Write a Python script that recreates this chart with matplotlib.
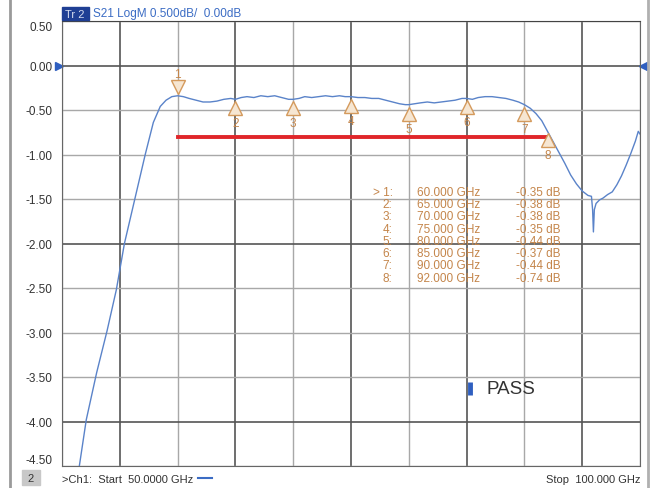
import matplotlib
matplotlib.use("Agg")
import matplotlib.pyplot as plt
from matplotlib.patches import Rectangle

plt.rcParams['font.family'] = ['Liberation Sans', 'DejaVu Sans']

# S21 trace (GHz, dB)
freq_ghz = [51.5, 52.1, 53.0, 53.9, 54.7, 55.4, 56.3, 57.2, 57.9, 58.5, 59.0, 59.5,
            60.0, 60.5, 61.0, 61.6, 62.2, 62.8, 63.4, 64.0, 64.6, 65.0, 65.5, 66.0,
            66.6, 67.2, 67.8, 68.4, 69.0, 69.6, 70.0, 70.5, 71.0, 71.6, 72.2, 72.8,
            73.4, 74.0, 74.5, 75.0, 75.6, 76.2, 76.8, 77.4, 78.0, 78.6, 79.2, 79.7,
            80.0, 80.5, 81.0, 81.6, 82.2, 82.8, 83.4, 84.0, 84.6, 85.0, 85.5, 86.0,
            86.6, 87.2, 87.8, 88.4, 89.0, 89.5, 90.0, 90.5, 91.0, 91.5, 92.0, 92.5,
            93.0, 93.5, 94.0, 94.5, 95.0, 95.5, 95.8, 95.9, 95.97, 96.05, 96.2, 96.5,
            96.8, 97.2, 97.6, 98.0, 98.4, 98.8, 99.2, 99.6, 99.85, 100.0]
s21_db = [-4.50, -3.98, -3.45, -2.98, -2.52, -2.00, -1.50, -1.00, -0.64, -0.46, -0.39, -0.35,
          -0.34, -0.35, -0.37, -0.39, -0.41, -0.41, -0.40, -0.38, -0.37, -0.38, -0.36, -0.35,
          -0.36, -0.34, -0.35, -0.34, -0.36, -0.38, -0.38, -0.37, -0.35, -0.36, -0.35, -0.34,
          -0.35, -0.34, -0.35, -0.35, -0.36, -0.36, -0.37, -0.37, -0.39, -0.41, -0.43, -0.44,
          -0.44, -0.43, -0.42, -0.41, -0.42, -0.41, -0.40, -0.39, -0.37, -0.37, -0.38, -0.36,
          -0.35, -0.35, -0.36, -0.37, -0.39, -0.41, -0.44, -0.48, -0.54, -0.62, -0.74, -0.86,
          -0.98, -1.10, -1.23, -1.33, -1.41, -1.46, -1.47, -1.62, -1.87, -1.62, -1.55, -1.51,
          -1.49, -1.45, -1.42, -1.34, -1.24, -1.12, -0.99, -0.85, -0.74, -0.77]

# markers
marker_ids = ['1', '2', '3', '4', '5', '6', '7', '8']
marker_freq = [60.0, 65.0, 70.0, 75.0, 80.0, 85.0, 90.0, 92.0]
marker_db = [-0.35, -0.38, -0.38, -0.35, -0.44, -0.37, -0.44, -0.74]

# limit line
limit_freq = [60.0, 92.0]
limit_db = [-0.8, -0.8]

x_ticks = [50, 55, 60, 65, 70, 75, 80, 85, 90, 95, 100]
y_ticks = [0.5, 0.0, -0.5, -1.0, -1.5, -2.0, -2.5, -3.0, -3.5, -4.0, -4.5]
y_labels = ['0.50', '0.00', '-0.50', '-1.00', '-1.50', '-2.00', '-2.50', '-3.00',
            '-3.50', '-4.00', '-4.50']

trace_col = '#5a83c9'
mk_col = '#d49a5c'
txt_col = '#c4854a'

fig = plt.figure(figsize=(6.51, 4.89), dpi=100)
ax = fig.add_axes([62/651, 22/489, 578/651, 445/489])
ax.set_xlim(50, 100)
ax.set_ylim(-4.5, 0.5)

ax.set_xticks(x_ticks)
ax.set_xticklabels([])
ax.set_yticks(y_ticks)
ax.set_yticklabels(y_labels, fontsize=8.5, color='#333333')
ax.tick_params(length=0, pad=7)
ax.get_yticklabels()[0].set_va('top')
ax.get_yticklabels()[-1].set_va('bottom')

ax.grid(True, zorder=0)
for i, gl in enumerate(ax.get_xgridlines()):
    dark = i % 2 == 1
    gl.set_color('#555555' if dark else '#a8a8a8')
    gl.set_linewidth(1.2 if dark else 1.0)
for i, gl in enumerate(ax.get_ygridlines()):
    dark = i in (1, 5, 9)
    gl.set_color('#555555' if dark else '#a8a8a8')
    gl.set_linewidth(1.2 if dark else 1.0)
for s in ax.spines.values():
    s.set_color('#666666')
ax.spines['top'].set_color('#444444')

ax.plot(limit_freq, limit_db, color='#e0262a', lw=2.8, zorder=3)
ax.plot(freq_ghz, s21_db, color=trace_col, lw=1.0, zorder=4)

# marker triangles and numbers
for mid, f, v in zip(marker_ids, marker_freq, marker_db):
    if mid == '1':
        ax.plot(f, v + 0.11, marker='v', ms=9.5, mfc='#f6e6d2', mec=mk_col, mew=1, zorder=5)
        ax.text(f, v + 0.25, mid, color=txt_col, fontsize=8.5, ha='center', va='center')
    else:
        ax.plot(f, v - 0.1, marker='^', ms=9.5, mfc='#f6e6d2', mec=mk_col, mew=1, zorder=5)
        ax.text(f, v - 0.27, mid, color=txt_col, fontsize=8.5, ha='center', va='center')

# marker table
for i, (mid, f, v) in enumerate(zip(marker_ids, marker_freq, marker_db)):
    y = -1.42 - i * 0.1376
    ax.text(78.6, y, ('> ' if i == 0 else '') + mid + ':', color=txt_col, fontsize=8.5,
            ha='right', va='center')
    ax.text(80.7, y, '%.3f GHz' % f, color=txt_col, fontsize=8.5, ha='left', va='center')
    ax.text(93.1, y, '%.2f dB' % v, color=txt_col, fontsize=8.5, ha='right', va='center')

# reference position triangles
yt = ax.get_yaxis_transform()
ax.plot([-0.006], [0.0], marker='>', ms=6, color='#2f5fc0', transform=yt, clip_on=False)
ax.plot([1.006], [0.0], marker='<', ms=6, color='#2f5fc0', transform=yt, clip_on=False)

# PASS indicator
ax.plot([85.3, 85.3], [-3.56, -3.70], color='#2f5fc0', lw=3.5, solid_capstyle='butt')
ax.text(86.75, -3.63, 'PASS', fontsize=13.5, color='#333333', ha='left', va='center')

# screen decorations
fig.add_artist(plt.Line2D([10/651, 10/651], [0, 1], color='#9a9a9a', lw=2))
fig.add_artist(plt.Line2D([648/651, 648/651], [0, 1], color='#b0b0b0', lw=2))
fig.add_artist(Rectangle((62/651, 1 - 21/489), 27/651, 13/489, color='#1f3f94'))
fig.text(75/651, 1 - 14.5/489, 'Tr 2', fontsize=8, color='#d8def0', ha='center', va='center')
fig.text(93/651, 1 - 14.5/489, 'S21 LogM 0.500dB/  0.00dB', fontsize=8.5, color='#3b6cc4',
         ha='left', va='center')
fig.add_artist(Rectangle((22/651, 1 - 486/489), 18/651, 15/489, color='#c8c8c8'))
fig.text(31/651, 1 - 479/489, '2', fontsize=8, color='#333333', ha='center', va='center')
fig.text(62/651, 1 - 480/489, '>Ch1:  Start  50.0000 GHz', fontsize=8, color='#333333',
         ha='left', va='center')
fig.add_artist(plt.Line2D([198/651, 212/651], [1 - 479/489, 1 - 479/489], color='#3b6cc4', lw=1.5))
fig.text(640/651, 1 - 480/489, 'Stop  100.000 GHz', fontsize=8, color='#333333',
         ha='right', va='center')

fig.savefig('out.png', dpi=100)
